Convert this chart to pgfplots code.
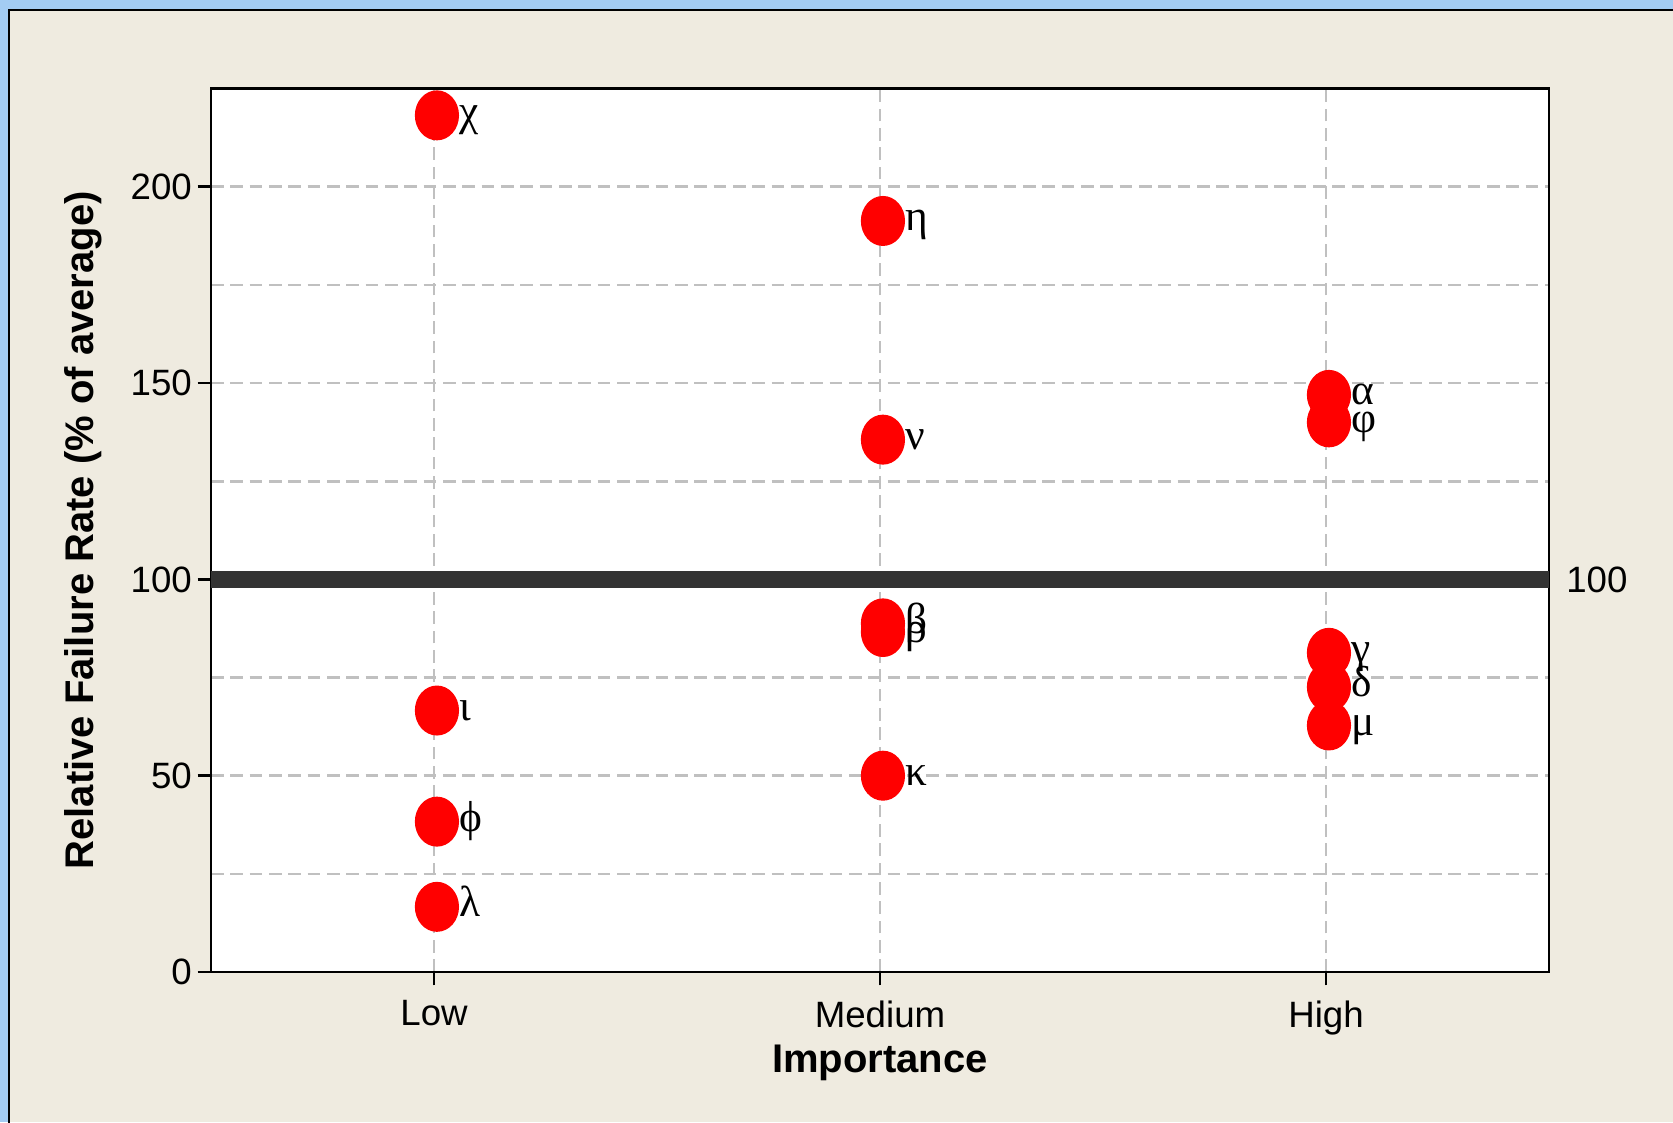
\documentclass[border=0pt]{standalone}
\usepackage{pgfplots}
\usepackage{pgfplotstable}
\pgfplotsset{compat=1.18}
\usepackage{fontspec}
\setmainfont{Liberation Sans}
\newfontfamily\greekfont{Liberation Serif}
\definecolor{bgbeige}{HTML}{EFEBE0}
\definecolor{frameblue}{HTML}{A3CCF3}
\definecolor{gridgray}{HTML}{C0C0C0}
\definecolor{refline}{HTML}{333333}

\pgfplotstableread{
x y lab
0 218.2 χ
0 66.6 ι
0 38.3 ϕ
0 16.6 λ
1 191.3 η
1 135.6 ν
1 88.8 β
1 86.6 ρ
1 50.0 κ
2 147.0 α
2 140.0 φ
2 81.3 γ
2 72.6 δ
2 62.8 μ
}\pointtable

\begin{document}
\begin{tikzpicture}
\path[use as bounding box] (-63.3pt,-45pt) rectangle (438.6pt,291.6pt);
\fill[frameblue] (-63.3pt,-45pt) rectangle (438.6pt,291.6pt);
\fill[bgbeige] (-60.6pt,-45pt) rectangle (438.6pt,288.6pt);
\draw[black, line width=0.6pt] (-60.6pt,-46pt) -- (-60.6pt,288.6pt) -- (440pt,288.6pt);
\begin{axis}[
  at={(0,0)}, anchor=south west,
  scale only axis, width=401.4pt, height=265pt,
  xmin=-0.5, xmax=2.5, ymin=0, ymax=225,
  axis background/.style={fill=white},
  axis line style={black, line width=0.8pt},
  xtick={0,1,2}, xticklabels={Low,Medium,High},
  ytick={0,50,100,150,200},
  minor ytick={25,75,125,175},
  xtick pos=bottom, ytick pos=left,
  tick align=outside,
  major tick length=4pt,
  minor tick length=0pt,
  tick style={black, line width=0.8pt},
  /pgf/number format/assume math mode=true,
  ticklabel style={font=\fontsize{11}{13}\selectfont},
  yticklabel style={xshift=1.8pt},
  xticklabel style={yshift=-1pt},
  grid=both,
  major grid style={gridgray, line width=0.8pt, dash pattern=on 3.8pt off 2pt},
  minor grid style={gridgray, line width=0.8pt, dash pattern=on 3.8pt off 2pt},
  xlabel={Importance},
  ylabel={Relative Failure Rate (\% of average)},
  label style={font=\bfseries\fontsize{12}{14}\selectfont},
  xlabel style={at={(axis description cs:0.5,-0.103)}, anchor=center},
  ylabel style={at={(axis description cs:-0.0957,0.5)}, anchor=center},
  clip mode=individual,
]
\addplot[refline, line width=5pt, forget plot] coordinates {(-0.5,100) (2.5,100)};
\addplot[
  only marks, mark=*, color=red,
  mark size=7.3pt,
  mark options={xscale=0.88, fill=red, draw=none, xshift=1pt},
  point meta=explicit symbolic,
  nodes near coords,
  every node near coord/.append style={
    font=\greekfont\fontsize{13}{15}\selectfont, text=black,
    anchor=base west, inner sep=0pt, xshift=6.6pt, yshift=-3pt},
] table[x=x, y=y, meta=lab] {\pointtable};
\node[anchor=west, font=\fontsize{11}{13}\selectfont, inner sep=0pt] at (axis cs:2.5,100) [xshift=5pt] {100};
\end{axis}
\end{tikzpicture}
\end{document}
